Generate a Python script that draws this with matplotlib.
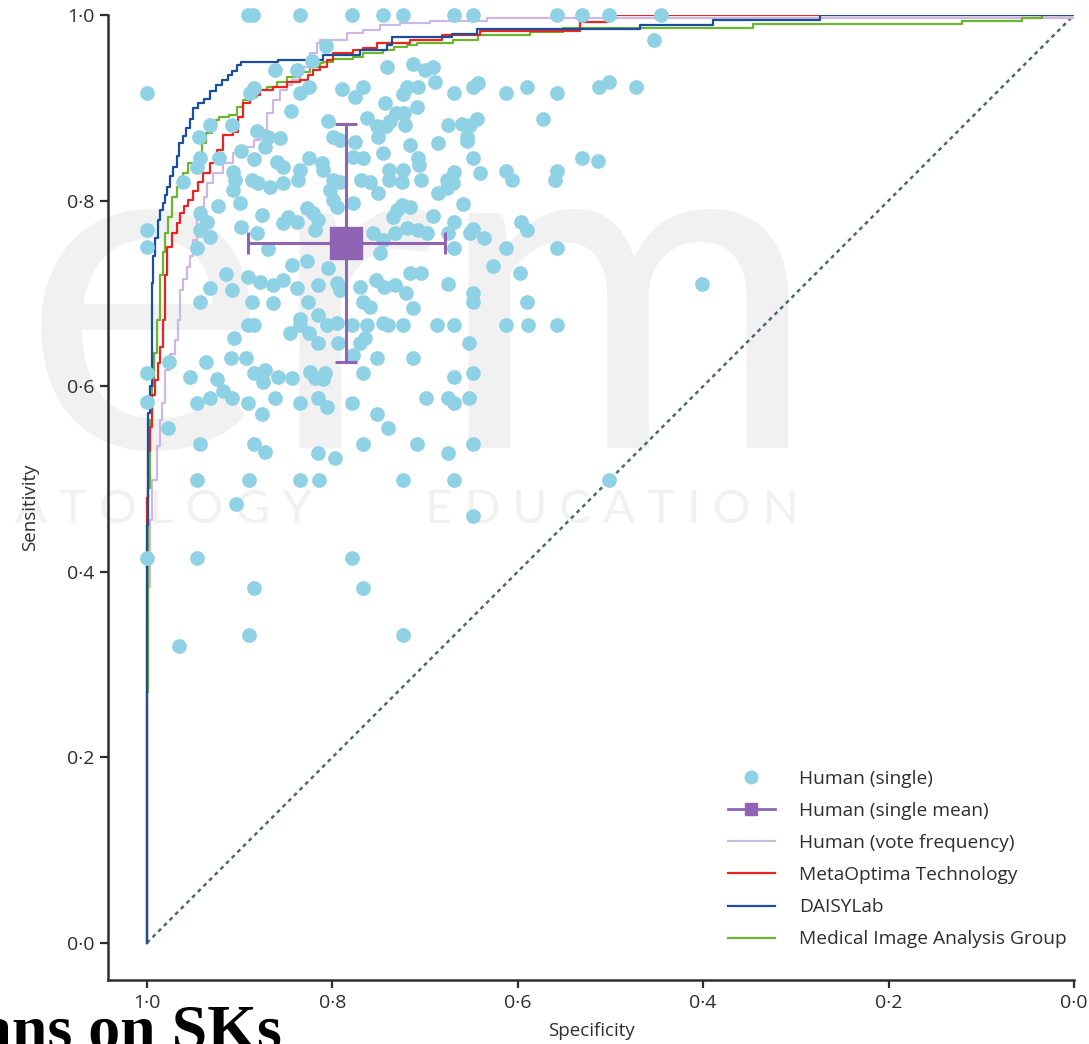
import matplotlib
matplotlib.use("Agg")
import matplotlib.pyplot as plt
from matplotlib.lines import Line2D

plt.rcParams['font.family'] = ['Open Sans', 'DejaVu Sans']

# ---------------------------------------------------------------- data
# individual human readers (specificity, sensitivity)
single_spec = [
    0.891, 0.886, 0.835, 0.779, 0.745, 0.724, 0.669, 0.648, 0.558, 0.531, 0.502, 0.446,
    1.0, 0.807, 0.822, 0.862, 0.838, 0.741, 0.713, 0.453, 0.700, 0.691,
    0.889, 0.885, 0.835, 0.825, 0.790, 0.776, 0.767, 0.720, 0.724, 0.708, 0.689, 0.669,
    0.648, 0.643, 0.613, 0.590, 0.558, 0.512, 0.502, 0.472,
    0.845, 0.743, 0.709, 0.731, 0.723, 0.805, 0.763, 0.752, 0.742, 0.738, 0.722, 0.932,
    0.908, 0.675, 0.660, 0.652, 0.644, 0.573,
    0.944, 0.881, 0.869, 0.857, 0.873, 0.799, 0.792, 0.776, 0.751, 0.716, 0.686, 0.655, 0.655,
    0.943, 0.946, 0.922, 0.898, 0.884, 0.860, 0.853, 0.825, 0.811, 0.810, 0.778, 0.767,
    0.745, 0.708, 0.706, 0.648, 0.531, 0.513,
    0.961, 0.907, 0.905, 0.887, 0.880, 0.867, 0.835, 0.837, 0.853, 0.799, 0.792, 0.803,
    0.769, 0.759, 0.739, 0.739, 0.724, 0.725, 0.704, 0.669, 0.676, 0.670, 0.641, 0.613,
    0.606, 0.558, 0.560, 0.907, 0.686, 0.676,
    0.923, 0.900, 0.876, 0.853, 0.848, 0.838, 0.827, 0.821, 0.816, 0.819, 0.799, 0.795,
    0.778, 0.751, 0.730, 0.735, 0.716, 0.725, 0.659, 0.691, 0.669, 0.943, 0.935,
    1.0, 1.0, 0.943, 0.932, 0.946, 0.898, 0.881, 0.869, 0.756, 0.745, 0.732, 0.749, 0.720,
    0.708, 0.698, 0.675, 0.652, 0.648, 0.636, 0.597, 0.590, 0.669, 0.613, 0.558,
    0.844, 0.827, 0.805, 0.627, 0.598, 0.716, 0.704, 0.915, 0.891, 0.878, 0.932, 0.908,
    0.864, 0.853, 0.838, 0.816, 0.795, 0.792, 0.770, 0.753, 0.744, 0.732, 0.721, 0.675,
    0.401, 0.648, 0.648, 0.590, 0.943, 0.887, 0.864, 0.826, 0.767, 0.759, 0.713,
    0.835, 0.816, 0.795, 0.763, 0.745,
    0.891, 0.885, 0.846, 0.835, 0.825, 0.806, 0.779, 0.740, 0.724, 0.687, 0.669, 0.613,
    0.589, 0.558,
    0.906, 0.816, 0.794, 0.770, 0.765, 0.653, 0.778, 0.976, 0.936, 0.909, 0.893, 0.752, 0.713,
    1.0, 0.954, 0.924, 0.884, 0.873, 0.875, 0.859, 0.843, 0.824, 0.819, 0.808, 0.810,
    0.767, 0.669, 0.648,
    0.918, 0.908, 0.932, 1.0, 0.946, 0.891, 0.862, 0.835, 0.816, 0.806, 0.779, 0.699,
    0.675, 0.669, 0.653, 0.876, 0.752, 0.977, 0.740,
    0.943, 0.885, 0.873, 0.816, 0.797, 0.767, 0.709, 0.675, 0.648,
    0.946, 0.890, 0.835, 0.814, 0.724, 0.669, 0.502,
    0.904, 0.648, 1.0, 0.946, 0.779, 0.885, 0.767, 0.890, 0.724, 0.965,
]
single_sens = [
    1.0, 1.0, 1.0, 1.0, 1.0, 1.0, 1.0, 1.0, 1.0, 1.0, 1.0, 1.0,
    0.916, 0.967, 0.950, 0.941, 0.941, 0.944, 0.947, 0.973, 0.941, 0.944,
    0.916, 0.921, 0.916, 0.922, 0.920, 0.912, 0.922, 0.922, 0.915, 0.922, 0.928, 0.916,
    0.922, 0.927, 0.916, 0.922, 0.916, 0.922, 0.928, 0.922,
    0.897, 0.905, 0.901, 0.894, 0.894, 0.886, 0.889, 0.880, 0.880, 0.886, 0.881, 0.881,
    0.881, 0.881, 0.883, 0.881, 0.888, 0.888,
    0.869, 0.875, 0.869, 0.867, 0.858, 0.869, 0.865, 0.863, 0.869, 0.860, 0.862, 0.869, 0.864,
    0.846, 0.836, 0.846, 0.853, 0.845, 0.842, 0.836, 0.846, 0.841, 0.833, 0.847, 0.846,
    0.851, 0.846, 0.838, 0.846, 0.846, 0.843,
    0.820, 0.831, 0.822, 0.822, 0.819, 0.815, 0.833, 0.822, 0.819, 0.822, 0.820, 0.811,
    0.822, 0.820, 0.833, 0.822, 0.833, 0.820, 0.822, 0.831, 0.822, 0.819, 0.830, 0.832,
    0.822, 0.832, 0.822, 0.811, 0.808, 0.814,
    0.794, 0.797, 0.784, 0.776, 0.782, 0.777, 0.792, 0.787, 0.779, 0.768, 0.801, 0.793,
    0.797, 0.808, 0.790, 0.782, 0.793, 0.795, 0.796, 0.783, 0.777, 0.787, 0.777,
    0.768, 0.750, 0.768, 0.761, 0.749, 0.772, 0.765, 0.748, 0.765, 0.758, 0.765, 0.744, 0.770,
    0.768, 0.765, 0.765, 0.765, 0.769, 0.760, 0.777, 0.768, 0.749, 0.749, 0.749,
    0.731, 0.735, 0.727, 0.730, 0.722, 0.722, 0.722, 0.721, 0.718, 0.712, 0.706, 0.704,
    0.709, 0.714, 0.706, 0.709, 0.711, 0.704, 0.707, 0.714, 0.707, 0.709, 0.700, 0.710,
    0.710, 0.700, 0.691, 0.691, 0.691, 0.691, 0.690, 0.691, 0.691, 0.685, 0.684,
    0.672, 0.677, 0.668, 0.666, 0.668,
    0.666, 0.666, 0.657, 0.666, 0.657, 0.666, 0.666, 0.666, 0.666, 0.666, 0.666, 0.666,
    0.666, 0.666,
    0.652, 0.647, 0.646, 0.647, 0.652, 0.647, 0.634, 0.626, 0.626, 0.630, 0.630, 0.630, 0.630,
    0.614, 0.610, 0.608, 0.614, 0.617, 0.605, 0.610, 0.609, 0.615, 0.609, 0.614, 0.608,
    0.614, 0.610, 0.614,
    0.595, 0.587, 0.587, 0.583, 0.582, 0.582, 0.587, 0.582, 0.587, 0.578, 0.582, 0.587,
    0.587, 0.582, 0.587, 0.570, 0.570, 0.555, 0.555,
    0.538, 0.538, 0.529, 0.528, 0.523, 0.538, 0.538, 0.528, 0.538,
    0.499, 0.499, 0.499, 0.499, 0.499, 0.499, 0.499,
    0.473, 0.460, 0.415, 0.415, 0.415, 0.383, 0.383, 0.332, 0.332, 0.320,
]

# mean of individual readers with range bars
mean_spec, mean_sens = 0.785, 0.754
mean_spec_lo, mean_spec_hi = 0.679, 0.891
mean_sens_lo, mean_sens_hi = 0.626, 0.883

# ROC curves
vote_spec = [1.0, 0.999, 0.997, 0.994, 0.989, 0.986, 0.984, 0.981, 0.975, 0.970,
             0.967, 0.964, 0.961, 0.957, 0.954, 0.950, 0.946, 0.943, 0.938, 0.935,
             0.929, 0.918, 0.907, 0.896, 0.885, 0.878, 0.870, 0.864, 0.857, 0.849,
             0.843, 0.835, 0.824, 0.817, 0.813, 0.784, 0.767, 0.749, 0.727, 0.695,
             0.633, 0.0]
vote_sens = [0.0, 0.348, 0.384, 0.456, 0.499, 0.535, 0.564, 0.582, 0.617, 0.635,
             0.650, 0.671, 0.704, 0.716, 0.728, 0.740, 0.758, 0.782, 0.793, 0.804,
             0.819, 0.830, 0.841, 0.851, 0.858, 0.865, 0.876, 0.894, 0.908, 0.919,
             0.925, 0.930, 0.944, 0.959, 0.970, 0.973, 0.981, 0.984, 0.989, 0.991,
             0.994, 0.997]

meta_spec = [1.0, 0.999, 0.997, 0.994, 0.991, 0.988, 0.986, 0.983, 0.981, 0.978,
             0.973, 0.968, 0.964, 0.960, 0.956, 0.950, 0.945, 0.940, 0.932, 0.928,
             0.924, 0.918, 0.907, 0.902, 0.896, 0.889, 0.878, 0.864, 0.849, 0.835,
             0.826, 0.821, 0.813, 0.806, 0.799, 0.778, 0.767, 0.752, 0.716, 0.682,
             0.641, 0.533, 0.503, 0.496, 0.0]
meta_sens = [0.0, 0.48, 0.53, 0.556, 0.59, 0.607, 0.625, 0.642, 0.671, 0.72,
             0.750, 0.765, 0.776, 0.787, 0.794, 0.801, 0.81, 0.820, 0.830, 0.841,
             0.848, 0.855, 0.871, 0.874, 0.890, 0.905, 0.914, 0.919, 0.922, 0.928,
             0.930, 0.935, 0.941, 0.944, 0.952, 0.959, 0.962, 0.964, 0.970, 0.973,
             0.978, 0.983, 0.992, 0.997, 1.0]

daisy_spec = [1.0, 0.999, 0.997, 0.995, 0.993, 0.991, 0.988, 0.986, 0.983, 0.981,
              0.978, 0.975, 0.972, 0.968, 0.965, 0.961, 0.958, 0.954, 0.950, 0.945,
              0.938, 0.932, 0.926, 0.919, 0.913, 0.908, 0.903, 0.898, 0.859, 0.810,
              0.770, 0.741, 0.736, 0.671, 0.644, 0.468, 0.389, 0.274, 0.0]
daisy_sens = [0.0, 0.45, 0.571, 0.60, 0.711, 0.74, 0.76, 0.779, 0.79, 0.797,
              0.806, 0.815, 0.826, 0.836, 0.848, 0.862, 0.87, 0.878, 0.888, 0.900,
              0.905, 0.910, 0.918, 0.925, 0.930, 0.935, 0.940, 0.946, 0.949, 0.952,
              0.957, 0.962, 0.968, 0.976, 0.980, 0.985, 0.989, 0.995, 1.0]

mia_spec = [1.0, 0.999, 0.997, 0.995, 0.992, 0.989, 0.986, 0.983, 0.980, 0.977,
            0.973, 0.968, 0.964, 0.961, 0.956, 0.946, 0.941, 0.936, 0.930, 0.925,
            0.922, 0.911, 0.903, 0.896, 0.891, 0.881, 0.870, 0.860, 0.849, 0.835,
            0.824, 0.813, 0.810, 0.799, 0.778, 0.767, 0.745, 0.734, 0.720, 0.709,
            0.670, 0.643, 0.587, 0.551, 0.346, 0.121, 0.056, 0.034, 0.0]
mia_sens = [0.0, 0.27, 0.49, 0.564, 0.60, 0.636, 0.671, 0.72, 0.745, 0.765,
            0.782, 0.804, 0.815, 0.825, 0.830, 0.841, 0.851, 0.862, 0.873, 0.881,
            0.887, 0.890, 0.892, 0.901, 0.908, 0.912, 0.919, 0.922, 0.928, 0.933,
            0.939, 0.944, 0.948, 0.949, 0.953, 0.955, 0.959, 0.962, 0.966, 0.968,
            0.970, 0.973, 0.978, 0.982, 0.986, 0.990, 0.994, 0.997, 1.0]

ticks = [1.0, 0.8, 0.6, 0.4, 0.2, 0.0]
tick_labels = ["1·0", "0·8", "0·6", "0·4", "0·2", "0·0"]

labels = ["Human (single)", "Human (single mean)", "Human (vote frequency)",
          "MetaOptima Technology", "DAISYLab", "Medical Image Analysis Group"]

c_dot = "#8fd1e5"
c_mean = "#9163b5"
c_vote = "#cdb8e0"
c_meta = "#e8261f"
c_daisy = "#1b4f9e"
c_mia = "#6cb52f"
c_text = "#2e2e2e"
c_mark = "#f1f1f1"

# ---------------------------------------------------------------- figure
fig = plt.figure(figsize=(10.89, 10.44), dpi=100)
ax = fig.add_axes([108 / 1089, 1 - 980 / 1044, 966 / 1089, 965 / 1044])
ax.patch.set_alpha(0)

# watermark left in the source screenshot
ax.text(22 / 1089, 1 - 448 / 1044, "erm", transform=fig.transFigure, family="Lato",
        fontsize=335, color=c_mark, ha="left", va="baseline", zorder=0.1)
ax.text(312 / 1089, 1 - 523 / 1044, "A T O L O G Y", transform=fig.transFigure,
        family="Lato", fontsize=34, color=c_mark, ha="right", va="baseline", zorder=0.1)
ax.text(425 / 1089, 1 - 523 / 1044, "E D U C A T I O N", transform=fig.transFigure,
        family="Lato", fontsize=34, color=c_mark, ha="left", va="baseline", zorder=0.1)

ax.plot([1, 0], [0, 1], color="#4d6976", lw=1.8, linestyle=(0, (1.6, 1.6)), zorder=1.5)

ax.plot(vote_spec, vote_sens, drawstyle="steps-pre", color=c_vote, lw=1.6, zorder=2)
ax.plot(mia_spec, mia_sens, drawstyle="steps-pre", color=c_mia, lw=1.6, zorder=2.1)
ax.plot(meta_spec, meta_sens, drawstyle="steps-pre", color=c_meta, lw=1.6, zorder=2.2)
ax.plot(daisy_spec, daisy_sens, drawstyle="steps-pre", color=c_daisy, lw=1.6, zorder=2.3)

ax.scatter(single_spec, single_sens, s=112, color=c_dot, linewidths=0, zorder=3, clip_on=False)

ax.errorbar([mean_spec], [mean_sens],
            xerr=[[mean_spec_hi - mean_spec], [mean_spec - mean_spec_lo]],
            yerr=[[mean_sens - mean_sens_lo], [mean_sens_hi - mean_sens]],
            fmt="s", ms=23, color=c_mean, ecolor=c_mean, elinewidth=2.2,
            capsize=8, capthick=2.2, zorder=4)

ax.set_xlim(1.042, 0.0)
ax.set_ylim(-0.04, 1.0)
ax.set_xticks(ticks)
ax.set_xticklabels(tick_labels)
ax.set_yticks(ticks)
ax.set_yticklabels(tick_labels)
ax.tick_params(direction="out", length=6, width=1.6, colors=c_text, labelsize=14, pad=4)
for side in ["top", "right"]:
    ax.spines[side].set_visible(False)
for side in ["left", "bottom"]:
    ax.spines[side].set_color(c_text)
    ax.spines[side].set_linewidth(1.8)

ax.set_xlabel("Specificity", fontsize=13.5, color=c_text, labelpad=7)
ax.set_ylabel("Sensitivity", fontsize=13.5, color=c_text)
ax.yaxis.set_label_coords(-0.071, 0.49)

handles = [
    Line2D([], [], marker="o", ls="none", ms=10, color=c_dot, markeredgewidth=0),
    Line2D([], [], marker="s", ms=9, lw=2, color=c_mean),
    Line2D([], [], lw=1.6, color=c_vote),
    Line2D([], [], lw=1.6, color=c_meta),
    Line2D([], [], lw=1.6, color=c_daisy),
    Line2D([], [], lw=1.6, color=c_mia),
]
ax.legend(handles, labels, loc="upper left", bbox_to_anchor=(718 / 1089, 1 - 760 / 1044),
          bbox_transform=fig.transFigure, frameon=False, fontsize=13.8,
          handlelength=2.45, handletextpad=1.3, labelspacing=0.74, borderpad=0,
          labelcolor=c_text)

# heading fragment cut off in the source screenshot
fig.text(282 / 1089, -0.004, "ans on SKs", ha="right", va="baseline",
         family="Liberation Serif", weight="bold", fontsize=46, color="black")

fig.savefig("out.png", dpi=100)
